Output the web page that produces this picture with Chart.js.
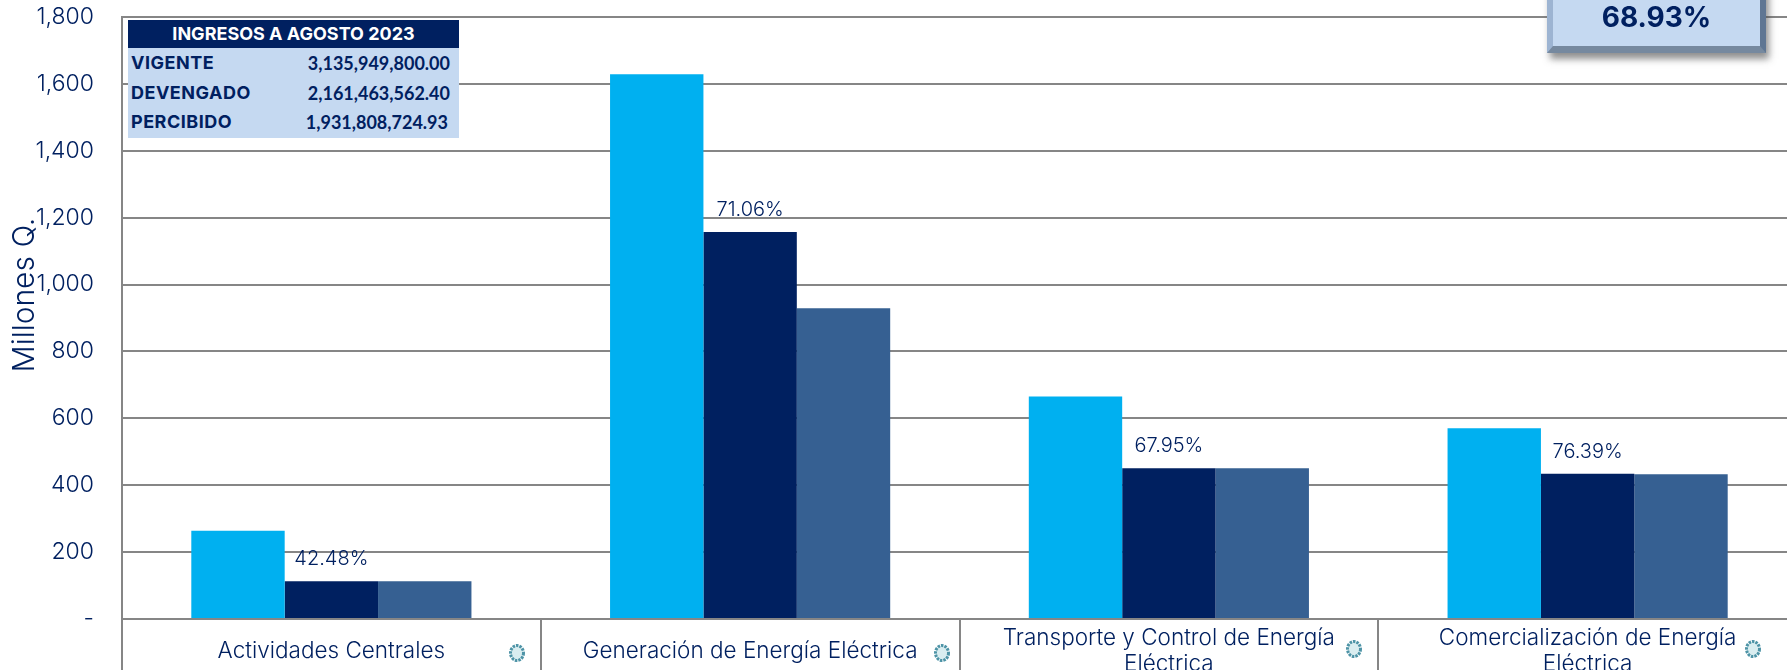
<!DOCTYPE html>
<html lang="es">
<head>
<meta charset="utf-8">
<title>Ingresos a agosto 2023</title>
<script src="https://cdn.jsdelivr.net/npm/chart.js@4"></script>
<style>
  html, body { margin: 0; padding: 0; background: #fff; width: 1787px; height: 670px; overflow: hidden; }
  #wrap { position: relative; width: 1787px; height: 670px; overflow: hidden; font-family: Inter, sans-serif; color: #002060; }
  canvas { position: absolute; left: 0; top: 0; }
  #tabla { position: absolute; left: 128px; top: 20px; width: 331px; height: 118px; background: #c5d9f1; font-weight: 700; font-size: 18px; }
  #tabla .head { height: 28px; line-height: 28px; background: #002060; color: #fff; text-align: center; }
  #tabla .row { position: absolute; left: 3px; right: 9px; display: flex; justify-content: space-between; line-height: 20px; letter-spacing: .5px; }
  #tabla .num { font-family: Lato, sans-serif; font-size: 18px; letter-spacing: 0; }
  #total { position: absolute; left: 1547px; top: -40px; width: 219px; height: 93px; box-sizing: border-box; background: #c5d9f1;
    border-style: solid; border-width: 0 6px 7px 6px; border-color: #a9bfdc #5f7693 #76899f #9db4d2;
    box-shadow: 3px 6px 7px rgba(70,70,70,.6); font-weight: 700; font-size: 28px; text-align: center; line-height: 114px; }
</style>
</head>
<body>
<div id="wrap">
  <canvas id="graph" width="1830" height="720" style="width:1830px;height:720px"></canvas>
  <div id="tabla">
    <div class="head">INGRESOS A AGOSTO 2023</div>
    <div class="row" style="top:33px"><span>VIGENTE</span><span class="num">3,135,949,800.00</span></div>
    <div class="row" style="top:63px"><span>DEVENGADO</span><span class="num">2,161,463,562.40</span></div>
    <div class="row" style="top:92px"><span>PERCIBIDO</span><span class="num" style="margin-right:2px">1,931,808,724.93</span></div>
  </div>
  <div id="total">68.93%</div>
</div>
<script>
const categorias = [
  'Actividades Centrales',
  'Generación de Energía Eléctrica',
  ['Transporte y Control de Energía', 'Eléctrica'],
  ['Comercialización de Energía', 'Eléctrica'],
];
const vigente = [264, 1629, 665, 570];
const devengado = [113, 1157, 451, 434];
const percibido = [113, 929, 451, 433];
const porcentajes = ['42.48%', '71.06%', '67.95%', '76.39%'];
const azul = '#002060';

// textos que Chart.js no dibuja solo: porcentajes sobre la segunda barra, titulo del eje y sellos
const extras = {
  id: 'extras',
  afterDatasetsDraw(chart) {
    const ctx = chart.ctx;
    const barras = chart.getDatasetMeta(1).data;
    ctx.save();
    ctx.fillStyle = azul;
    ctx.textAlign = 'center';
    ctx.textBaseline = 'middle';
    ctx.font = '300 20px Inter';
    porcentajes.forEach((texto, i) => {
      ctx.fillText(texto, barras[i].x, barras[i].y - 22);
    });

    ctx.save();
    ctx.translate(25, 295);
    ctx.rotate(-Math.PI / 2);
    ctx.font = '300 30px Inter';
    ctx.fillText('Millones Q.', 0, 0);
    ctx.restore();

    [[517, 653], [942, 653], [1354, 649], [1753, 649]].forEach(([x, y]) => {
      ctx.beginPath();
      ctx.ellipse(x, y, 6.5, 7.5, 0, 0, Math.PI * 2);
      ctx.fillStyle = '#d9edf0';
      ctx.fill();
      ctx.lineWidth = 3;
      ctx.strokeStyle = '#4d93a6';
      ctx.setLineDash([2.5, 1]);
      ctx.stroke();
      ctx.setLineDash([]);
    });
    ctx.restore();
  },
};

new Chart(document.getElementById('graph').getContext('2d'), {
  type: 'bar',
  data: {
    labels: categorias,
    datasets: [
      { label: 'Vigente', data: vigente, backgroundColor: '#00b0f0' },
      { label: 'Devengado', data: devengado, backgroundColor: azul },
      { label: 'Percibido', data: percibido, backgroundColor: '#366092' },
    ],
  },
  options: {
    responsive: false,
    animation: false,
    events: [],
    layout: { padding: { top: 17, right: 33, left: 0, bottom: 0 } },
    datasets: { bar: { categoryPercentage: 0.669, barPercentage: 1 } },
    plugins: { legend: { display: false }, title: { display: false }, tooltip: { enabled: false } },
    scales: {
      x: {
        afterFit: (scale) => { scale.height = 101; },
        grid: { color: '#868686', lineWidth: 2, drawOnChartArea: false, tickLength: 70 },
        border: { color: '#868686', width: 2 },
        ticks: {
          color: azul,
          font: { family: 'Inter', size: 22.5, weight: '300', lineHeight: 1.16 },
          maxRotation: 0,
          autoSkip: false,
          crossAlign: 'center',
          padding: -51,
        },
      },
      y: {
        min: 0,
        max: 1800,
        afterFit: (scale) => {
          scale.width = 122;
          scale.paddingTop = 0;
          scale.paddingBottom = 0;
        },
        grid: { color: '#868686', lineWidth: 2, drawTicks: false },
        border: { color: '#868686', width: 2 },
        ticks: {
          stepSize: 200,
          color: azul,
          padding: 28,
          font: { family: 'Inter', size: 23, weight: '300' },
          callback: (value) => (value === 0 ? '-' : value.toLocaleString('en-US')),
        },
      },
    },
  },
  plugins: [extras],
});
</script>
</body>
</html>
